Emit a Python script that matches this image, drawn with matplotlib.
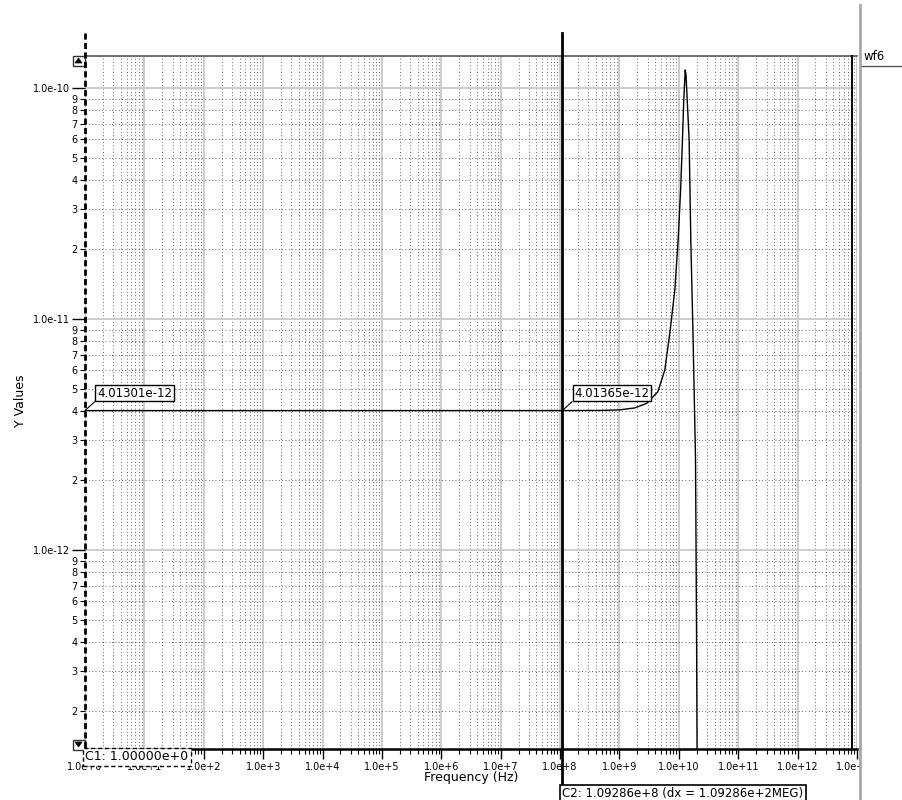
import matplotlib
matplotlib.use("Agg")
import matplotlib.pyplot as plt
from matplotlib.ticker import FixedLocator, FixedFormatter, NullFormatter
from matplotlib.transforms import blended_transform_factory
from matplotlib.lines import Line2D
from matplotlib.patches import Rectangle, Polygon

# ---- waveform wf6 : AC sweep ------------------------------------------------
freq_hz = [1.0, 1.09286e8, 5.0e8, 1.0e9, 1.8e9, 2.86e9, 4.43e9, 5.8e9,
           7.05e9, 8.57e9, 9.73e9, 1.07e10, 1.15e10, 1.21e10, 1.28e10,
           1.32e10, 1.49e10, 1.59e10, 1.74e10, 1.91e10, 1.99e10, 2.03e10,
           2.1e10]
y_values = [4.01301e-12, 4.01365e-12, 4.019e-12, 4.04e-12, 4.12e-12,
            4.31e-12, 4.84e-12, 6.01e-12, 8.69e-12, 1.34e-11, 2.2e-11,
            3.61e-11, 5.96e-11, 8.87e-11, 1.197e-10, 1.14e-10, 5.96e-11,
            2.2e-11, 8.11e-12, 2.45e-12, 4.07e-13, 1.23e-13, 1.0e-14]
trace_name = "wf6"

# ---- cursors ---------------------------------------------------------------
cursor_names = ["C1", "C2"]
cursor_freq = [1.0, 1.09286e8]
cursor_vals = [4.01301e-12, 4.01365e-12]

# ---- axes ranges / ticks ---------------------------------------------------
x_range = (1.0, 1.0e13)
y_range = (10 ** -12.8615, 10 ** -9.8615)
x_major = [10.0 ** k for k in range(0, 14)]
x_major_labels = ["1.0e+%d" % k for k in range(0, 14)]
y_major = [1e-12, 1e-11, 1e-10]
y_major_labels = ["1.0e-12", "1.0e-11", "1.0e-10"]
y_minor_digits = [2, 3, 4, 5, 6, 7, 8, 9]
y_decades = [1e-13, 1e-12, 1e-11]

x_label = "Frequency (Hz)"
y_label = "Y Values"


def eng(v):
    """Mantissa/exponent text the way the waveform browser prints it."""
    m, e = ("%.5e" % v).split("e")
    return "%se%+d" % (m, int(e))


W, H = 902, 800
fig = plt.figure(figsize=(W / 100, H / 100), dpi=100)
fig.patch.set_facecolor("white")


def fx(px):
    return px / W


def fy(py):
    return 1 - py / H


ax = fig.add_axes([fx(85), fy(749), fx(857) - fx(85), fy(56) - fy(749)])
ax.set_xscale("log")
ax.set_yscale("log")
ax.set_xlim(*x_range)
ax.set_ylim(*y_range)

# ticks
ax.xaxis.set_major_locator(FixedLocator(x_major))
ax.xaxis.set_major_formatter(FixedFormatter(x_major_labels))
x_minor = [d * dec for dec in x_major[:-1] for d in y_minor_digits]
ax.xaxis.set_minor_locator(FixedLocator(x_minor))
ax.xaxis.set_minor_formatter(NullFormatter())

ax.yaxis.set_major_locator(FixedLocator(y_major))
ax.yaxis.set_major_formatter(FixedFormatter(y_major_labels))
y_minor = [d * dec for dec in y_decades for d in y_minor_digits]
y_minor_labels = [str(d) for dec in y_decades for d in y_minor_digits]
ax.yaxis.set_minor_locator(FixedLocator(y_minor))
ax.yaxis.set_minor_formatter(FixedFormatter(y_minor_labels))

ax.tick_params(axis="x", which="major", length=7, width=1, pad=2,
               labelsize=7, color="black")
ax.tick_params(axis="x", which="minor", length=3.5, width=0.8, color="black")
ax.tick_params(axis="y", which="major", length=9.5, width=1, pad=1.5,
               labelsize=7, color="black")
ax.tick_params(axis="y", which="minor", length=3.6, width=0.8, pad=1.5,
               labelsize=7, color="black")

# grid: solid grey decades, dotted sub-decades
ax.grid(True, which="major", color="#c8c8c8", lw=1.3, ls="-", zorder=0)
ax.grid(True, which="minor", color="#383838", lw=0.6, ls=(0, (1, 3)), zorder=0)
ax.set_axisbelow(True)

for side in ("left", "right"):
    ax.spines[side].set_visible(False)
ax.spines["top"].set_color("#555555")
ax.spines["top"].set_linewidth(1.2)
ax.spines["bottom"].set_color("black")
ax.spines["bottom"].set_linewidth(1.8)

# trace
ax.plot(freq_hz, y_values, color="black", lw=1.0, zorder=3)

# axis titles
fig.text(fx(471), fy(777), x_label, ha="center", va="center", fontsize=9)
fig.text(fx(20), fy(401), y_label, ha="center", va="center", fontsize=9,
         rotation=90)

# right frame of the strip
fig.add_artist(Line2D([fx(851.5), fx(851.5)], [fy(56), fy(749)],
                      color="black", lw=1.4))

# mask to the right of the panel edge, then the panel separator
fig.add_artist(Rectangle((fx(860), 0), 1 - fx(860), 1, transform=fig.transFigure,
                         facecolor="white", edgecolor="none", zorder=1))
fig.add_artist(Line2D([fx(859.5), fx(859.5)], [fy(5), 0], color="#a8a8a8",
                      lw=2, zorder=2))
fig.text(fx(863), fy(57), trace_name, ha="left", va="center", fontsize=8.5,
         zorder=3)
fig.add_artist(Line2D([fx(862), 1], [fy(65.5), fy(65.5)], color="#555555",
                      lw=1, zorder=3))

# scroll buttons
for top, up in ((55.5, True), (739.5, False)):
    fig.add_artist(Rectangle((fx(72.5), fy(top + 10)), fx(12), fy(0) - fy(10),
                             transform=fig.transFigure, facecolor="white",
                             edgecolor="#333333", lw=1, zorder=4))
    if up:
        tri = [(fx(75), fy(top + 7.5)), (fx(82), fy(top + 7.5)), (fx(78.5), fy(top + 2.5))]
    else:
        tri = [(fx(75), fy(top + 2.5)), (fx(82), fy(top + 2.5)), (fx(78.5), fy(top + 7.5))]
    fig.add_artist(Polygon(tri, closed=True, transform=fig.transFigure,
                           facecolor="black", edgecolor="black", lw=0.5, zorder=5))

# cursors
bt = blended_transform_factory(ax.transData, fig.transFigure)
c1f, c2f = cursor_freq
fig.add_artist(Line2D([c1f, c1f], [fy(33), fy(767)], transform=bt,
                      color="black", lw=2, ls=(0, (2.2, 1.2)), zorder=6))
fig.add_artist(Line2D([c2f, c2f], [fy(33), fy(785)], transform=bt,
                      color="black", lw=2, zorder=6))

for f, v in zip(cursor_freq, cursor_vals):
    ax.annotate(eng(v), xy=(f, v), xytext=(12, 11),
                textcoords="offset pixels", ha="left", va="bottom",
                fontsize=8.5, annotation_clip=False, zorder=7,
                bbox=dict(boxstyle="square,pad=0.15", fc="white", ec="black", lw=1),
                arrowprops=dict(arrowstyle="-", color="black", lw=0.8,
                                relpos=(0, 0), shrinkA=0, shrinkB=0))

# cursor readouts under the x axis
dx_meg = (c2f - c1f) / 1e6
fig.text(c1f, fy(750.5), "%s: %s" % (cursor_names[0], eng(c1f)), transform=bt,
         ha="left", va="top", fontsize=9, zorder=7,
         bbox=dict(boxstyle="square,pad=0.2", fc="white", ec="black", lw=1,
                   ls=(0, (3, 2))))
fig.text(c2f, fy(787), "%s: %s (dx = %sMEG)" % (cursor_names[1], eng(c2f), eng(dx_meg)),
         transform=bt, ha="left", va="top", fontsize=8.5, zorder=7,
         bbox=dict(boxstyle="square,pad=0.18", fc="white", ec="black", lw=1.2))

fig.savefig("out.png", dpi=100, facecolor="white")
